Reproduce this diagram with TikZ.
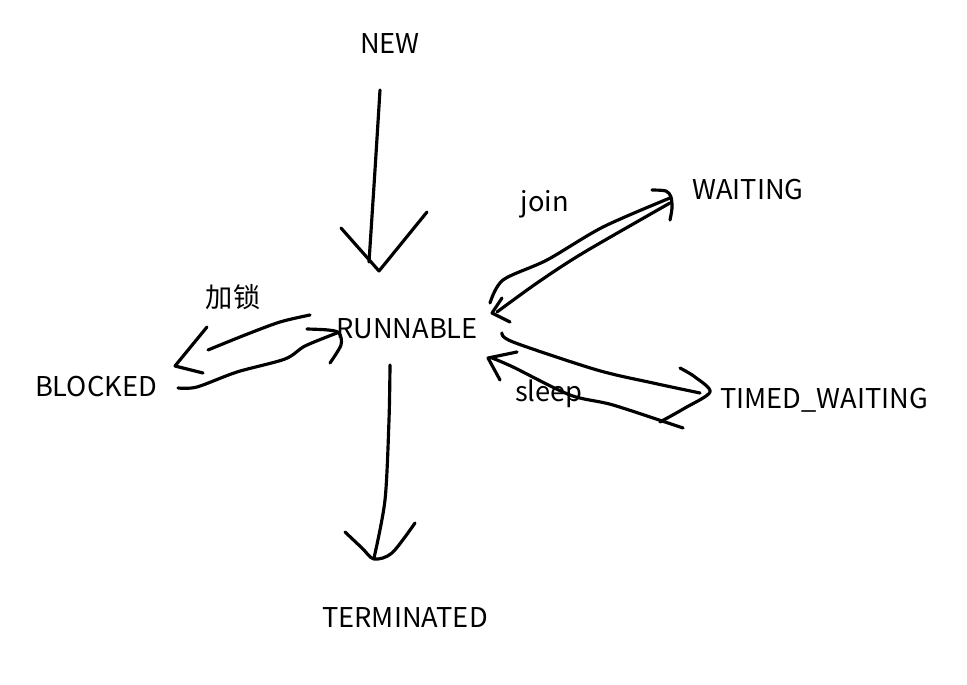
\documentclass[tikz,border=0pt]{standalone}
\usepackage{fontspec}
\setmainfont{Noto Sans CJK SC}
\usetikzlibrary{positioning,calc}

\tikzset{
  pen/.style={line width=1.8pt, line cap=round, line join=round},
  state/.style={font=\fontsize{15.5}{18}\selectfont, inner sep=0pt},
  lbl/.style={font=\fontsize{15.5}{18}\selectfont, inner sep=0pt}
}

\begin{document}
\begin{tikzpicture}[x=0.02cm, y=-0.02cm]
\useasboundingbox (0,0) rectangle (967,685);

% states
\node[state] (new) at (390,44) {NEW};
\node[state] (runnable) at (407,329) {RUNNABLE};
\node[state] (waiting) at (748,190) {WAITING};
\node[state] (blocked) at (96,387) {BLOCKED};
\node[state] (timed) at (824,400) {TIMED\_WAITING};
\node[state] (terminated) at (405,618) {TERMINATED};

% labels
\node[lbl] (join) at (545,204) {join};
\node[lbl] (lock) at (233,297) {加锁};
\node[lbl] (sleep) at (549,394) {sleep};

% NEW -> RUNNABLE
\coordinate (n1) at (380,90);
\coordinate (n2) at (369,262);
\draw[pen] plot[smooth] coordinates {(n1) (375,170) (n2)};
\draw[pen] (341,228) -- (379,271) -- (427,212);

% RUNNABLE -> TERMINATED
\coordinate (t1) at (390,365);
\coordinate (t2) at (374,558);
\draw[pen] plot[smooth] coordinates {(t1) (389,420) (385,500) (t2)};
\draw[pen] plot[smooth] coordinates {(345,532) (362,548) (374,559) (392,553) (415,523)};

% RUNNABLE -> BLOCKED
\coordinate (b1) at (310,315);
\coordinate (b2) at (208,350);
\draw[pen] plot[smooth] coordinates {(b1) (280,322) (245,335) (b2)};
\draw[pen] (207,327) -- (175,366) -- (203,373);

% BLOCKED -> RUNNABLE
\coordinate (b3) at (178,388);
\coordinate (b4) at (337,333);
\draw[pen] plot[smooth, tension=0.5] coordinates {(b3) (197,387) (237,372) (285,359) (305,346) (b4)};
\draw[pen] plot[smooth] coordinates {(307,329) (328,330) (339,333) (341,345) (330,363)};

% RUNNABLE -> WAITING
\coordinate (w1) at (490,303);
\coordinate (w2) at (670,198);
\draw[pen] plot[smooth] coordinates {(w1) (503,280) (547,260) (603,227) (w2)};
\draw[pen] plot[smooth] coordinates {(652,190) (666,191) (671,197) (672,208) (670,220)};

% WAITING -> RUNNABLE
\coordinate (w3) at (670,203);
\coordinate (w4) at (497,312);
\draw[pen] plot[smooth] coordinates {(w3) (583,253) (537,283) (w4)};
\draw[pen] (502,298) -- (492,313) -- (510,322);

% RUNNABLE -> TIMED_WAITING
\coordinate (s1) at (502,333);
\coordinate (s2) at (700,393);
\draw[pen] plot[smooth] coordinates {(s1) (513,342) (597,370) (653,383) (s2)};
\draw[pen] plot[smooth] coordinates {(680,368) (695,377) (710,392) (685,408) (660,422)};

% TIMED_WAITING -> RUNNABLE
\coordinate (s3) at (683,428);
\coordinate (s4) at (492,358);
\draw[pen] plot[smooth] coordinates {(s3) (613,405) (570,395) (513,367) (s4)};
\draw[pen] (517,352) -- (488,358) -- (500,380);
\end{tikzpicture}
\end{document}
